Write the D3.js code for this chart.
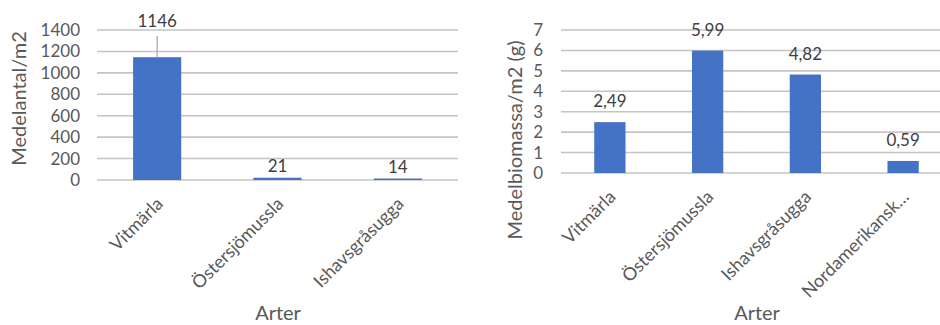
<!DOCTYPE html>
<html>
<head>
<meta charset="utf-8">
<script src="https://cdn.jsdelivr.net/npm/d3@7"></script>
<style>
  html, body { margin: 0; padding: 0; background: #fff; }
  svg { display: block; font-family: Lato, "Open Sans", sans-serif; }
</style>
</head>
<body>
<svg id="chart" width="940" height="325"></svg>
<script>
// Species counts (left) and biomass (right)
const speciesCount = ["Vitmärla", "Östersjömussla", "Ishavsgråsugga"];
const meanCount = [1146, 21, 14];
const countTicks = [0, 200, 400, 600, 800, 1000, 1200, 1400];

const speciesMass = ["Vitmärla", "Östersjömussla", "Ishavsgråsugga", "Nordamerikansk…"];
const meanMass = [2.49, 5.99, 4.82, 0.59];
const massLabels = ["2,49", "5,99", "4,82", "0,59"];
const massTicks = [0, 1, 2, 3, 4, 5, 6, 7];

const svg = d3.select("#chart");
const BAR = "#4472c4";
const GRID = "#c4c4c4";
const TICK_TXT = "#595959";
const LABEL_TXT = "#404040";

function drawPanel(cfg) {
  const g = svg.append("g");
  const x = d3.scaleBand().domain(cfg.cats).range(cfg.xRange)
    .paddingInner(cfg.padIn).paddingOuter(cfg.padOut);
  const y = d3.scaleLinear().domain(cfg.yDomain).range(cfg.yRange);

  // horizontal gridlines
  g.append("g").selectAll("line").data(cfg.ticks).join("line")
    .attr("x1", cfg.xRange[0]).attr("x2", cfg.xRange[1])
    .attr("y1", d => y(d)).attr("y2", d => y(d))
    .attr("stroke", GRID).attr("stroke-width", 1.6);

  // y-axis tick labels
  const yAxis = d3.axisLeft(y).tickValues(cfg.ticks).tickSize(0).tickPadding(0)
    .tickFormat(d3.format("d"));
  const ya = g.append("g").attr("transform", `translate(${cfg.tickX},0)`).call(yAxis);
  ya.select(".domain").remove();
  ya.selectAll("text").attr("fill", TICK_TXT).style("font-size", "17px")
    .style("font-family", "Lato, sans-serif");

  // bars
  g.append("g").selectAll("rect").data(cfg.values).join("rect")
    .attr("x", (d, i) => x(cfg.cats[i]))
    .attr("width", x.bandwidth())
    .attr("y", d => y(d))
    .attr("height", d => y(0) - y(d))
    .attr("fill", BAR);

  // category labels along the bottom, tilted
  const xAxis = d3.axisBottom(x).tickSize(0).tickPadding(0);
  const xa = g.append("g").attr("transform", `translate(0,${y(0)})`).call(xAxis);
  xa.select(".domain").remove();
  xa.selectAll("text")
    .attr("fill", TICK_TXT).style("font-size", "18px").style("font-family", "Lato, sans-serif")
    .attr("text-anchor", "end").attr("dy", null).attr("y", 0)
    .attr("transform", "translate(7,25) rotate(-45)");

  // axis titles
  g.append("text").attr("x", cfg.titleX).attr("y", cfg.titleY)
    .attr("text-anchor", "middle").attr("fill", TICK_TXT).style("font-size", "20px")
    .text("Arter");
  g.append("text")
    .attr("transform", `translate(${cfg.yTitleX},${cfg.yTitleY}) rotate(-90)`)
    .attr("text-anchor", "middle").attr("dy", "0.35em").attr("fill", TICK_TXT)
    .style("font-size", "20px").text(cfg.yTitle);
  return { g, x, y };
}

// Left panel: mean abundance per m2
const left = drawPanel({
  cats: speciesCount, values: meanCount, ticks: countTicks,
  xRange: [97, 458], padIn: 0.6, padOut: 0.3,
  yDomain: [0, 1400], yRange: [180, 30], tickX: 80,
  titleX: 278, titleY: 320, yTitleX: 19, yTitleY: 98.5, yTitle: "Medelantal/m2"
});
left.g.append("g").selectAll("text").data(meanCount).join("text")
  .attr("x", (d, i) => left.x(speciesCount[i]) + left.x.bandwidth() / 2)
  .attr("y", (d, i) => i === 0 ? left.y(1400) - 3 : left.y(d) - 6)
  .attr("text-anchor", "middle").attr("fill", LABEL_TXT).style("font-size", "17px")
  .text(d => d);
// leader line from the moved label down to its bar
left.g.append("line")
  .attr("x1", left.x(speciesCount[0]) + left.x.bandwidth() / 2)
  .attr("x2", left.x(speciesCount[0]) + left.x.bandwidth() / 2)
  .attr("y1", left.y(1400) + 6).attr("y2", left.y(meanCount[0]))
  .attr("stroke", "#a6a6a6").attr("stroke-width", 1.2);

// Right panel: mean biomass per m2
const right = drawPanel({
  cats: speciesMass, values: meanMass, ticks: massTicks,
  xRange: [561, 952], padIn: 0.68, padOut: 0.34,
  yDomain: [0, 7], yRange: [173, 30], tickX: 543,
  titleX: 757, titleY: 320, yTitleX: 515, yTitleY: 140, yTitle: "Medelbiomassa/m2 (g)"
});
right.g.append("g").selectAll("text").data(meanMass).join("text")
  .attr("x", (d, i) => right.x(speciesMass[i]) + right.x.bandwidth() / 2)
  .attr("y", d => right.y(d) - 15)
  .attr("text-anchor", "middle").attr("fill", LABEL_TXT).style("font-size", "17px")
  .text((d, i) => massLabels[i]);
</script>
</body>
</html>
